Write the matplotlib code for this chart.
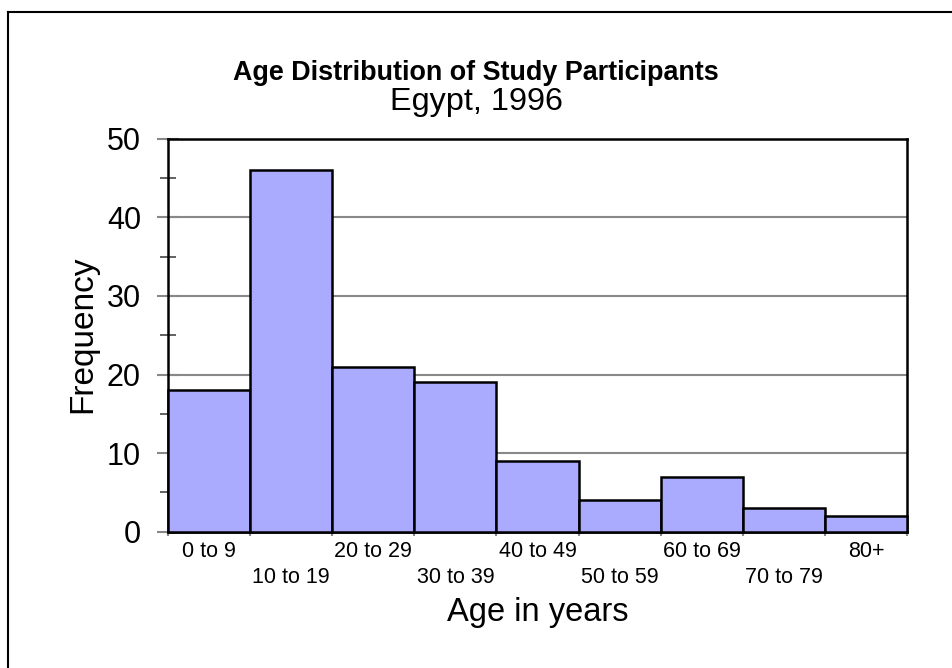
import matplotlib
matplotlib.use("Agg")
import matplotlib.pyplot as plt
from matplotlib.lines import Line2D
import numpy as np

categories = ["0 to 9", "10 to 19", "20 to 29", "30 to 39", "40 to 49",
              "50 to 59", "60 to 69", "70 to 79", "80+"]
frequency = [18, 46, 21, 19, 9, 4, 7, 3, 2]
title = "Age Distribution of Study Participants"
subtitle = "Egypt, 1996"
xlabel = "Age in years"
ylabel = "Frequency"
yticks_major = [0, 10, 20, 30, 40, 50]
yticks_minor = [5, 15, 25, 35, 45]

plt.rcParams['font.family'] = ['Liberation Sans', 'DejaVu Sans']

W, H = 952, 668
fig = plt.figure(figsize=(W / 100, H / 100), dpi=100)

def fx(px):
    return px / W

def fy(py):
    return 1 - py / H

ax = fig.add_axes([fx(167.7), fy(531.7), fx(907.3) - fx(167.7), fy(138.7) - fy(531.7)])

n = len(categories)
x = np.arange(n)
ax.bar(x, frequency, width=1.0, align='edge', color='#AAAAFF',
       edgecolor='black', linewidth=1.8, zorder=3, clip_on=False)

ax.set_xlim(0, n)
ax.set_ylim(0, 50)

# grid
ax.set_yticks(yticks_major)
ax.set_yticks(yticks_minor, minor=True)
ax.yaxis.grid(True, which='major', color='#888888', linewidth=1.5, zorder=0)
ax.set_axisbelow(True)
ax.tick_params(axis='y', which='major', direction='inout', length=16.5,
               width=1.5, color='#888888', labelsize=22, pad=11)
ax.tick_params(axis='y', which='minor', direction='inout', length=12,
               width=1.3, color='#555555')

# x ticks: major at bin edges (no labels), minor at centers with labels
ax.set_xticks(np.arange(n + 1))
ax.set_xticklabels([])
ax.tick_params(axis='x', which='major', direction='out', length=3,
               width=1.5, color='#888888')
ax.set_xticks(x + 0.5, minor=True)
labels = [c if i % 2 == 0 else "\n" + c for i, c in enumerate(categories)]
ax.set_xticklabels(labels, minor=True, fontsize=15.5, linespacing=1.3)
ax.tick_params(axis='x', which='minor', length=0, pad=7)

for s in ['left', 'top', 'right']:
    ax.spines[s].set_color('black')
    ax.spines[s].set_linewidth(1.8)
ax.spines['bottom'].set_linewidth(1.8)
ax.spines['top'].set_zorder(4)

# texts
fig.text(0.5, fy(73), title, ha='center', va='center',
         fontsize=19.4, fontweight='bold')
fig.text(0.5, fy(102), subtitle, ha='center', va='center',
         fontsize=23.3)
fig.text(0.5 * (fx(167.7) + fx(907.3)), fy(612), xlabel, ha='center', va='center',
         fontsize=23.5)
fig.text(fx(83), fy(334), ylabel, ha='center', va='center', rotation=90,
         fontsize=24)

# figure border (top and left)
fig.add_artist(Line2D([fx(8), 1.0], [fy(12), fy(12)], color='black', linewidth=1.5))
fig.add_artist(Line2D([fx(8), fx(8)], [fy(12), 0.0], color='black', linewidth=1.5))

fig.savefig("out.png", dpi=100, facecolor='white')
